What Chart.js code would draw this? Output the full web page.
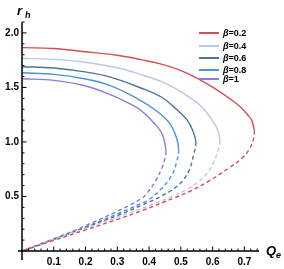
<!DOCTYPE html>
<html>
<head>
<meta charset="utf-8">
<script src="https://cdn.jsdelivr.net/npm/chart.js@4/dist/chart.umd.min.js"></script>
<style>
  html, body { margin: 0; padding: 0; background: #fff; }
</style>
</head>
<body>
<canvas id="chart" width="284" height="269"></canvas>
<script>
// beta values shown in the legend
const betaLabels = ["0.2", "0.4", "0.6", "0.8", "1"];
const colors = ["#d64f4f", "#bcc6e8", "#4f7394", "#4b93dc", "#8a7cd4"];
const xTickValues = [0.1, 0.2, 0.3, 0.4, 0.5, 0.6, 0.7];
const yTickValues = [0.5, 1.0, 1.5, 2.0];

// upper (solid) branches, from Q_e = 0 to the turning point
const upperQ_b02 = [0, 0.1, 0.19, 0.3, 0.374, 0.45, 0.508, 0.56, 0.61, 0.655, 0.686, 0.71, 0.723, 0.731];
const upperR_b02 = [1.865, 1.857, 1.83, 1.795, 1.755, 1.705, 1.645, 1.57, 1.485, 1.395, 1.325, 1.25, 1.2, 1.105];
const upperQ_b04 = [0, 0.1, 0.192, 0.3, 0.374, 0.45, 0.508, 0.555, 0.58, 0.605, 0.617, 0.623];
const upperR_b04 = [1.767, 1.757, 1.733, 1.68, 1.618, 1.54, 1.446, 1.35, 1.275, 1.17, 1.1, 1.01];
const upperQ_b06 = [0, 0.1, 0.192, 0.276, 0.374, 0.44, 0.486, 0.52, 0.538, 0.547];
const upperR_b06 = [1.69, 1.678, 1.645, 1.597, 1.495, 1.41, 1.3, 1.2, 1.1, 1.0];
const upperQ_b08 = [0, 0.1, 0.192, 0.276, 0.374, 0.43, 0.465, 0.486, 0.493];
const upperR_b08 = [1.635, 1.62, 1.582, 1.518, 1.38, 1.27, 1.17, 1.04, 0.93];
const upperQ_b1 = [0, 0.1, 0.192, 0.276, 0.34, 0.374, 0.42, 0.443, 0.453];
const upperR_b1 = [1.58, 1.565, 1.52, 1.437, 1.35, 1.29, 1.16, 1.06, 0.915];

// lower (dashed) branches, from just below the turning point back to the origin
const lowerQ_b02 = [0.729, 0.715, 0.692, 0.65, 0.59, 0.53, 0.482, 0.377, 0.3, 0.2, 0.1, 0];
const lowerR_b02 = [1.03, 0.93, 0.85, 0.76, 0.645, 0.55, 0.49, 0.37, 0.29, 0.193, 0.097, 0];
const lowerQ_b04 = [0.618, 0.605, 0.587, 0.56, 0.525, 0.48, 0.43, 0.377, 0.3, 0.2, 0.1, 0];
const lowerR_b04 = [0.93, 0.83, 0.73, 0.645, 0.575, 0.51, 0.45, 0.39, 0.31, 0.208, 0.105, 0];
const lowerQ_b06 = [0.54, 0.524, 0.493, 0.44, 0.377, 0.3, 0.2, 0.1, 0];
const lowerR_b06 = [0.881, 0.728, 0.606, 0.505, 0.42, 0.325, 0.215, 0.107, 0];
const lowerQ_b08 = [0.487, 0.472, 0.44, 0.398, 0.377, 0.3, 0.2, 0.1, 0];
const lowerR_b08 = [0.819, 0.697, 0.575, 0.468, 0.438, 0.34, 0.22, 0.108, 0];
const lowerQ_b1 = [0.449, 0.44, 0.419, 0.393, 0.377, 0.3, 0.2, 0.1, 0];
const lowerR_b1 = [0.84, 0.759, 0.636, 0.529, 0.483, 0.365, 0.232, 0.112, 0];

const upperQ = [upperQ_b02, upperQ_b04, upperQ_b06, upperQ_b08, upperQ_b1];
const upperR = [upperR_b02, upperR_b04, upperR_b06, upperR_b08, upperR_b1];
const lowerQ = [lowerQ_b02, lowerQ_b04, lowerQ_b06, lowerQ_b08, lowerQ_b1];
const lowerR = [lowerR_b02, lowerR_b04, lowerR_b06, lowerR_b08, lowerR_b1];

function pts(q, r) {
  return q.map((v, i) => ({ x: v, y: r[i] }));
}

// one continuous curve per beta so the turning point stays smooth;
// segments after the turning point are dashed
const datasets = betaLabels.map((b, i) => {
  const nUpper = upperQ[i].length;
  return {
    label: "β=" + b,
    data: pts(upperQ[i], upperR[i]).concat(pts(lowerQ[i], lowerR[i])),
    borderColor: colors[i],
    borderWidth: 1.4,
    showLine: true,
    pointRadius: 0,
    tension: 0.4,
    fill: false,
    segment: {
      borderDash: ctx => (ctx.p0DataIndex >= nUpper - 1 ? [4, 3] : undefined),
    },
  };
});

// Mathematica-like axes: lines through the origin, ticks pointing inward
const axesPlugin = {
  id: "mmaAxes",
  afterDraw(chart) {
    const { ctx, chartArea: a, scales: { x, y } } = chart;
    const x0 = x.getPixelForValue(0);
    const y0 = y.getPixelForValue(0);
    ctx.save();
    ctx.strokeStyle = "#000";
    ctx.lineWidth = 1.5;
    ctx.beginPath();
    ctx.moveTo(x0, y0 + 9);
    ctx.lineTo(x0, a.top);
    ctx.moveTo(x0 - 4, y0);
    ctx.lineTo(a.right, y0);
    ctx.stroke();

    ctx.lineWidth = 1;
    ctx.beginPath();
    for (let i = 1; i / 10 <= y.max + 1e-9; i++) {
      const py = y.getPixelForValue(i / 10);
      const len = i % 5 === 0 ? 4.5 : 2.5;
      ctx.moveTo(x0, py);
      ctx.lineTo(x0 + len, py);
    }
    for (let i = 1; i * 0.02 <= x.max + 1e-9; i++) {
      const px = x.getPixelForValue(i * 0.02);
      const len = i % 5 === 0 ? 4.5 : 2.5;
      ctx.moveTo(px, y0);
      ctx.lineTo(px, y0 - len);
    }
    ctx.stroke();

    // axis titles
    ctx.fillStyle = "#000";
    ctx.textBaseline = "alphabetic";
    ctx.textAlign = "left";
    ctx.font = "italic bold 13px 'Liberation Sans', Arial, sans-serif";
    ctx.fillText("r", 17, 15);
    ctx.fillText("Q", 266, 255);
    ctx.font = "italic bold 9px 'Liberation Sans', Arial, sans-serif";
    ctx.fillText("h", 25, 18);
    ctx.fillText("e", 276, 258);

    // legend
    const legendY = [33, 46, 58, 70, 79];
    betaLabels.forEach((b, i) => {
      const ly = legendY[i];
      ctx.strokeStyle = colors[i];
      ctx.lineWidth = 2;
      ctx.beginPath();
      ctx.moveTo(199, ly);
      ctx.lineTo(219, ly);
      ctx.stroke();
      ctx.fillStyle = "#000";
      ctx.textBaseline = "middle";
      ctx.font = "italic bold 9px 'Liberation Sans', Arial, sans-serif";
      ctx.fillText("β", 223, ly + 0.5);
      const w = ctx.measureText("β").width;
      ctx.font = "bold 9px 'Liberation Sans', Arial, sans-serif";
      ctx.fillText("=" + b, 223 + w, ly + 0.5);
    });
    ctx.restore();
  },
};

const tickFont = { family: "'Liberation Sans', Arial, sans-serif", size: 10, weight: "bold" };

new Chart(document.getElementById("chart"), {
  type: "scatter",
  data: { datasets },
  options: {
    responsive: false,
    animation: false,
    devicePixelRatio: 1,
    layout: { padding: { top: 22, right: 25, left: 0, bottom: 0 } },
    plugins: { legend: { display: false }, tooltip: { enabled: false } },
    scales: {
      x: {
        type: "linear",
        min: 0,
        max: 0.746,
        grid: { display: false, drawTicks: false },
        border: { display: false },
        afterFit: s => { s.height = 18; },
        afterBuildTicks: s => { s.ticks = xTickValues.map(v => ({ value: v })); },
        ticks: {
          autoSkip: false,
          maxRotation: 0,
          padding: 5,
          color: "#000",
          font: tickFont,
          callback: v => v.toFixed(1),
        },
      },
      y: {
        type: "linear",
        min: 0,
        max: 2.1,
        grid: { display: false, drawTicks: false },
        border: { display: false },
        afterFit: s => { s.width = 22; },
        afterBuildTicks: s => { s.ticks = yTickValues.map(v => ({ value: v })); },
        ticks: {
          autoSkip: false,
          padding: 3,
          color: "#000",
          font: tickFont,
          callback: v => v.toFixed(1),
        },
      },
    },
  },
  plugins: [axesPlugin],
});
</script>
</body>
</html>
